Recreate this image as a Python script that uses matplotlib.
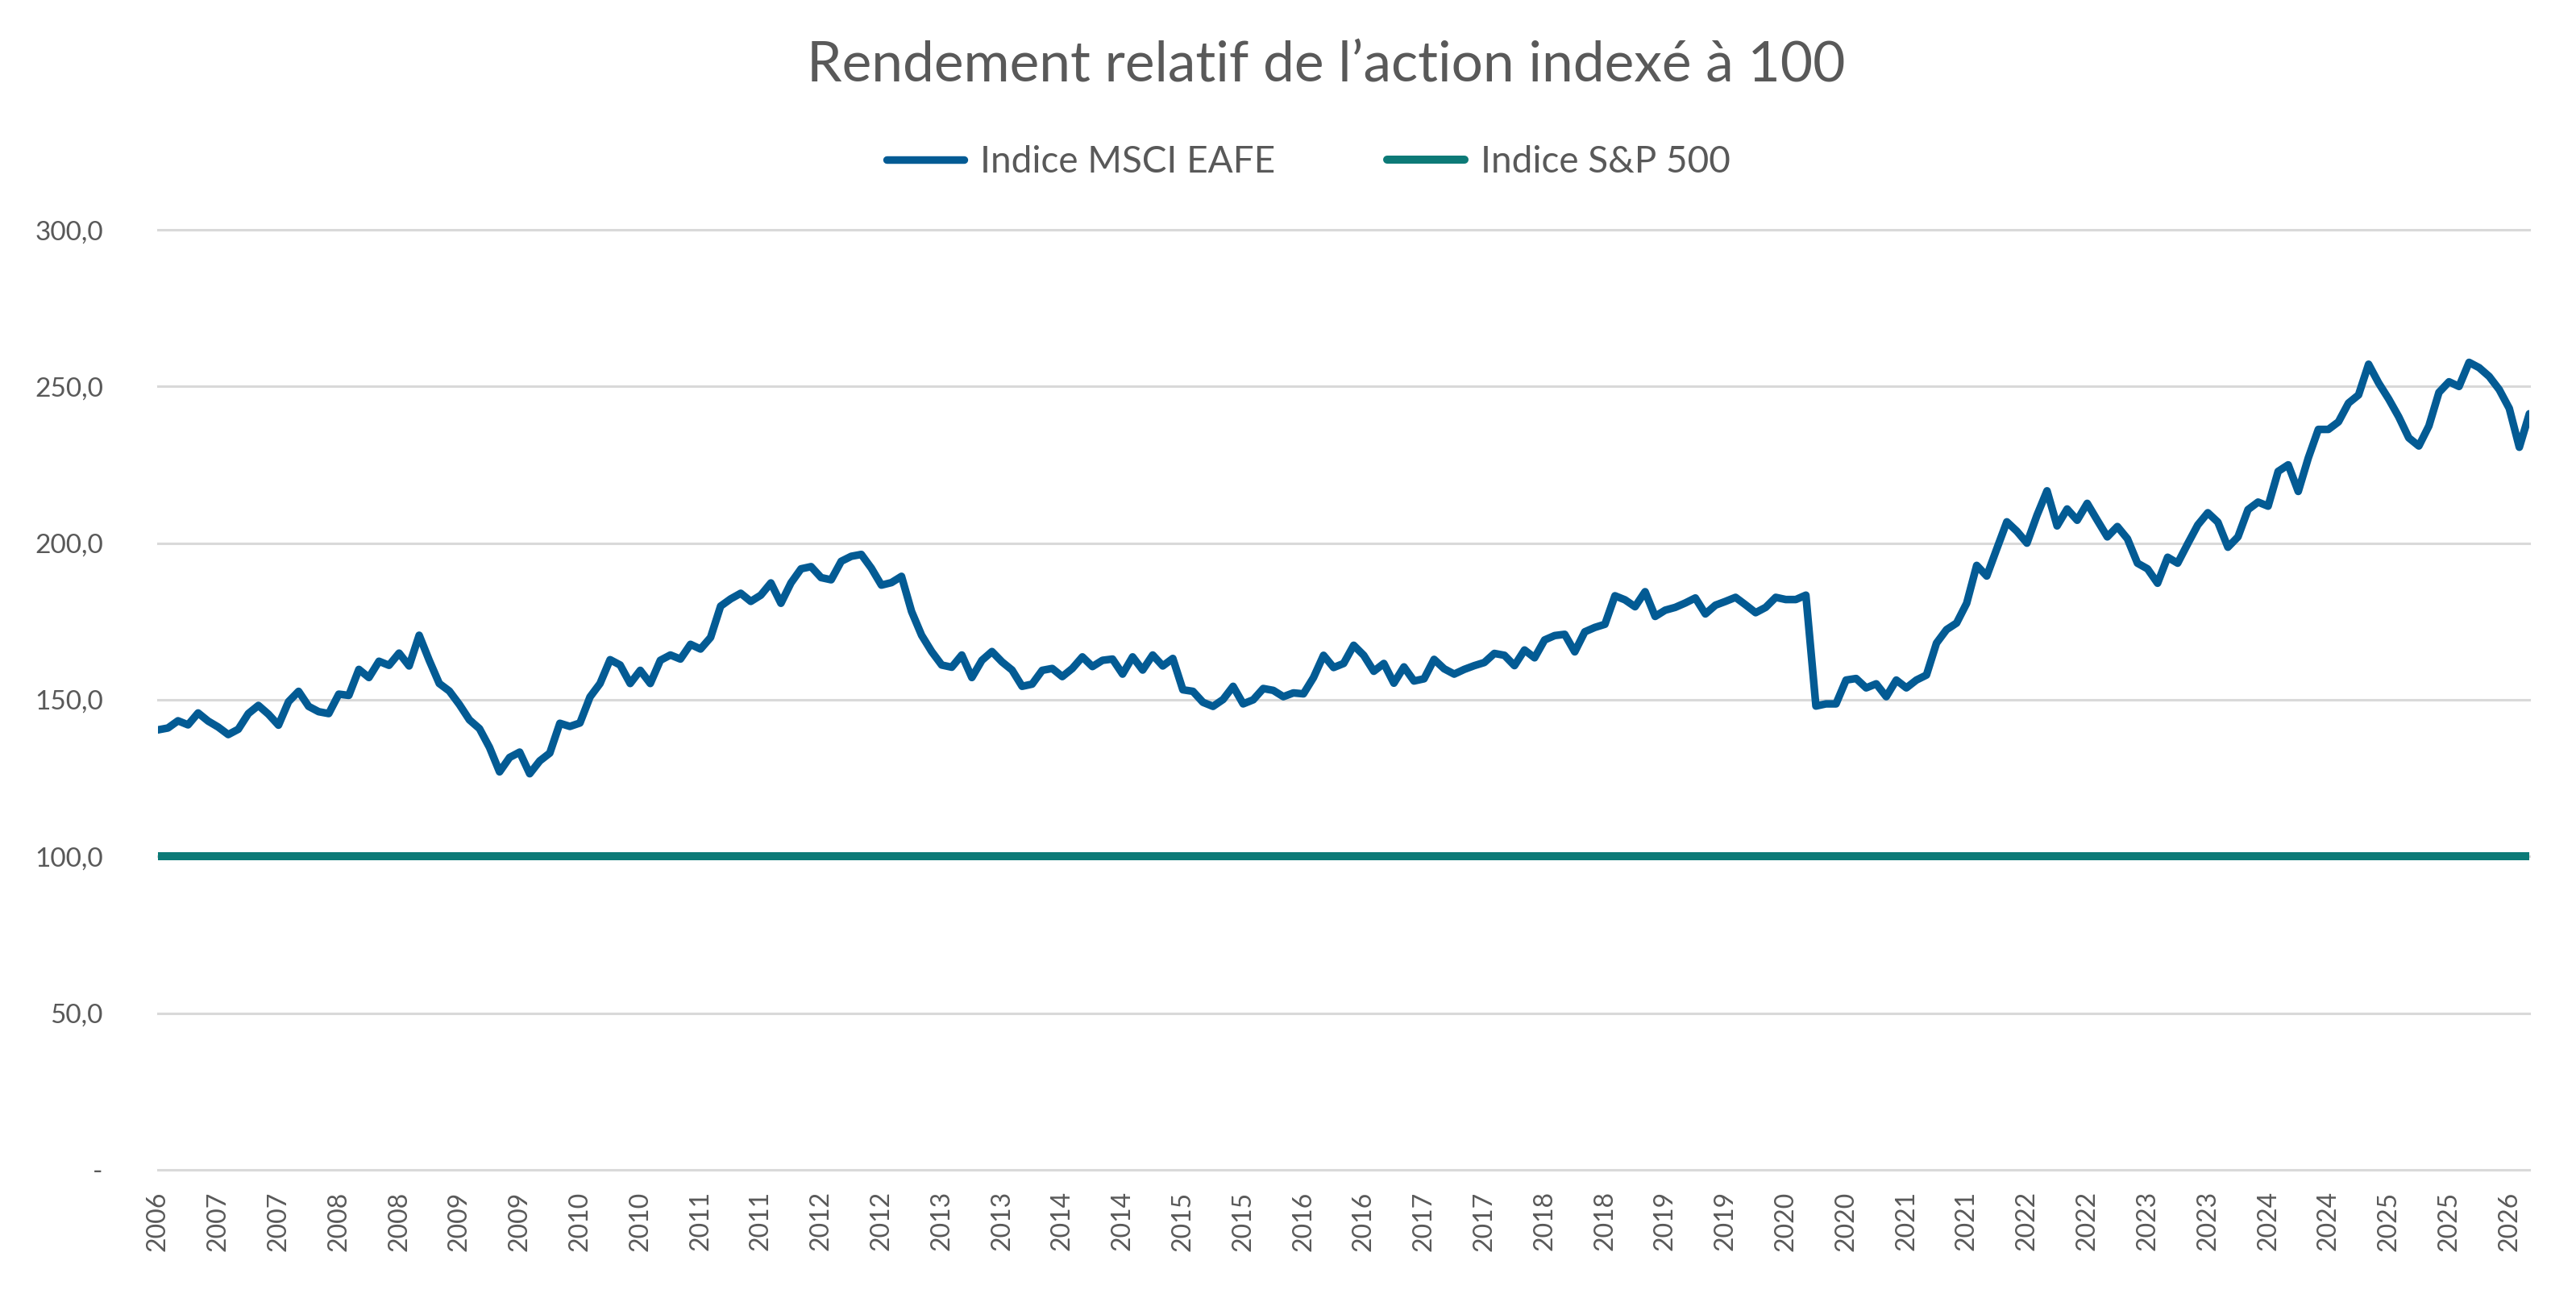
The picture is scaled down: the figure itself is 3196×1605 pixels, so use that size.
import matplotlib
matplotlib.use("Agg")
import matplotlib.pyplot as plt

plt.rcParams['font.family'] = ['Lato', 'DejaVu Sans']

# Données mensuelles, indice relatif (S&P 500 = 100)
title = "Rendement relatif de l’action indexé à 100"
series_names = ["Indice MSCI EAFE", "Indice S&P 500"]

msci_eafe = [
    140.4, 141.0, 143.3, 142.0, 145.8, 143.2, 141.3, 138.9, 140.6, 145.6,
    148.2, 145.4, 141.9, 149.4, 152.7, 147.9, 146.2, 145.6, 151.8, 151.4,
    159.7, 157.1, 162.3, 161.0, 164.9, 160.8, 170.6, 162.6, 155.2, 152.8,
    148.5, 143.6, 140.8, 134.8, 127.0, 131.6, 133.3, 126.4, 130.5, 133.0,
    142.5, 141.5, 142.6, 150.9, 155.2, 162.8, 161.1, 155.2, 159.4, 155.2,
    162.6, 164.3, 163.0, 167.7, 166.2, 169.9, 179.9, 182.2, 184.0, 181.4,
    183.4, 187.3, 180.8, 187.3, 191.8, 192.5, 189.0, 188.3, 194.2, 195.8,
    196.4, 192.0, 186.6, 187.4, 189.4, 178.2, 170.6, 165.4, 161.1, 160.4,
    164.3, 157.1, 162.6, 165.4, 162.1, 159.5, 154.3, 155.0, 159.4, 160.0,
    157.4, 160.0, 163.7, 160.6, 162.6, 163.0, 158.2, 163.7, 159.5, 164.3,
    160.8, 163.2, 153.2, 152.7, 149.2, 147.9, 150.1, 154.3, 148.7, 150.0,
    153.6, 153.0, 151.0, 152.2, 151.9, 157.1, 164.2, 160.3, 161.6, 167.4,
    164.2, 159.1, 161.6, 155.3, 160.5, 156.0, 156.7, 162.9, 159.9, 158.2,
    159.7, 160.9, 161.9, 164.8, 164.2, 160.9, 165.9, 163.4, 169.1, 170.5,
    170.9, 165.3, 171.7, 173.1, 174.1, 183.2, 181.9, 179.7, 184.5, 176.6,
    178.6, 179.5, 180.9, 182.5, 177.4, 180.2, 181.4, 182.7, 180.3, 177.8,
    179.5, 182.7, 182.0, 182.0, 183.4, 148.0, 148.7, 148.7, 156.3, 156.8,
    153.8, 155.1, 151.0, 156.3, 153.8, 156.3, 157.9, 168.1, 172.4, 174.5,
    180.8, 192.9, 189.5, 198.2, 206.8, 203.8, 200.0, 208.9, 216.7, 205.5,
    210.9, 207.3, 212.7, 207.3, 202.0, 205.3, 201.4, 193.6, 191.8, 187.2,
    195.5, 193.6, 199.8, 205.8, 209.7, 206.7, 198.7, 202.0, 210.7, 213.1,
    211.8, 222.9, 225.0, 216.5, 227.2, 236.3, 236.3, 238.7, 244.7, 247.3,
    257.1, 251.1, 246.0, 240.3, 233.6, 231.0, 237.4, 248.1, 251.5, 250.0,
    257.7, 256.0, 253.2, 249.0, 243.0, 230.6, 241.3,
]
sp500 = [100.0] * len(msci_eafe)

# une étiquette tous les 6 mois
x_labels = ["2006"] + [str(y) for y in range(2007, 2026) for _ in range(2)] + ["2026"]
y_values = [0, 50, 100, 150, 200, 250, 300]
y_labels = ["-", "50,0", "100,0", "150,0", "200,0", "250,0", "300,0"]

blue = "#035B94"
teal = "#0C7A77"
grey_text = "#595959"

fig = plt.figure(figsize=(31.96, 16.05), dpi=100)
ax = fig.add_axes([0.0613, 0.0960, 0.9206, 0.7264])

x = list(range(len(msci_eafe)))
l1, = ax.plot(x, msci_eafe, color=blue, lw=6.8, solid_joinstyle='round',
              solid_capstyle='round', zorder=4)
l2, = ax.plot(x, sp500, color=teal, lw=7.2, solid_capstyle='round', zorder=3)

ax.set_xlim(0, len(msci_eafe) - 1)
ax.set_ylim(0, 300)

ax.set_xticks(x[::6])
ax.set_xticklabels(x_labels, rotation=90, fontsize=23, color=grey_text)
ax.set_yticks(y_values)
ax.set_yticklabels(y_labels, fontsize=24, color=grey_text)
ax.tick_params(axis='x', length=0, pad=19)
ax.tick_params(axis='y', length=0, pad=49)

ax.grid(axis='y', color='#D9D9D9', lw=2.2, zorder=0)
ax.grid(axis='x', visible=False)
for gl in ax.get_ygridlines():
    gl.set_clip_on(False)
for s in ax.spines.values():
    s.set_visible(False)

fig.text(0.5147, 0.949, title, ha='center', va='center', fontsize=50,
         color=grey_text)

fs = 33
px = fs * 100 / 72
fig.legend([l1, l2], series_names, loc='center', bbox_to_anchor=(0.508, 0.875),
           ncol=2, frameon=False, fontsize=fs, labelcolor=grey_text,
           handlelength=96 / px, handletextpad=20 / px, columnspacing=139 / px)

fig.savefig("out.png", dpi=100)
